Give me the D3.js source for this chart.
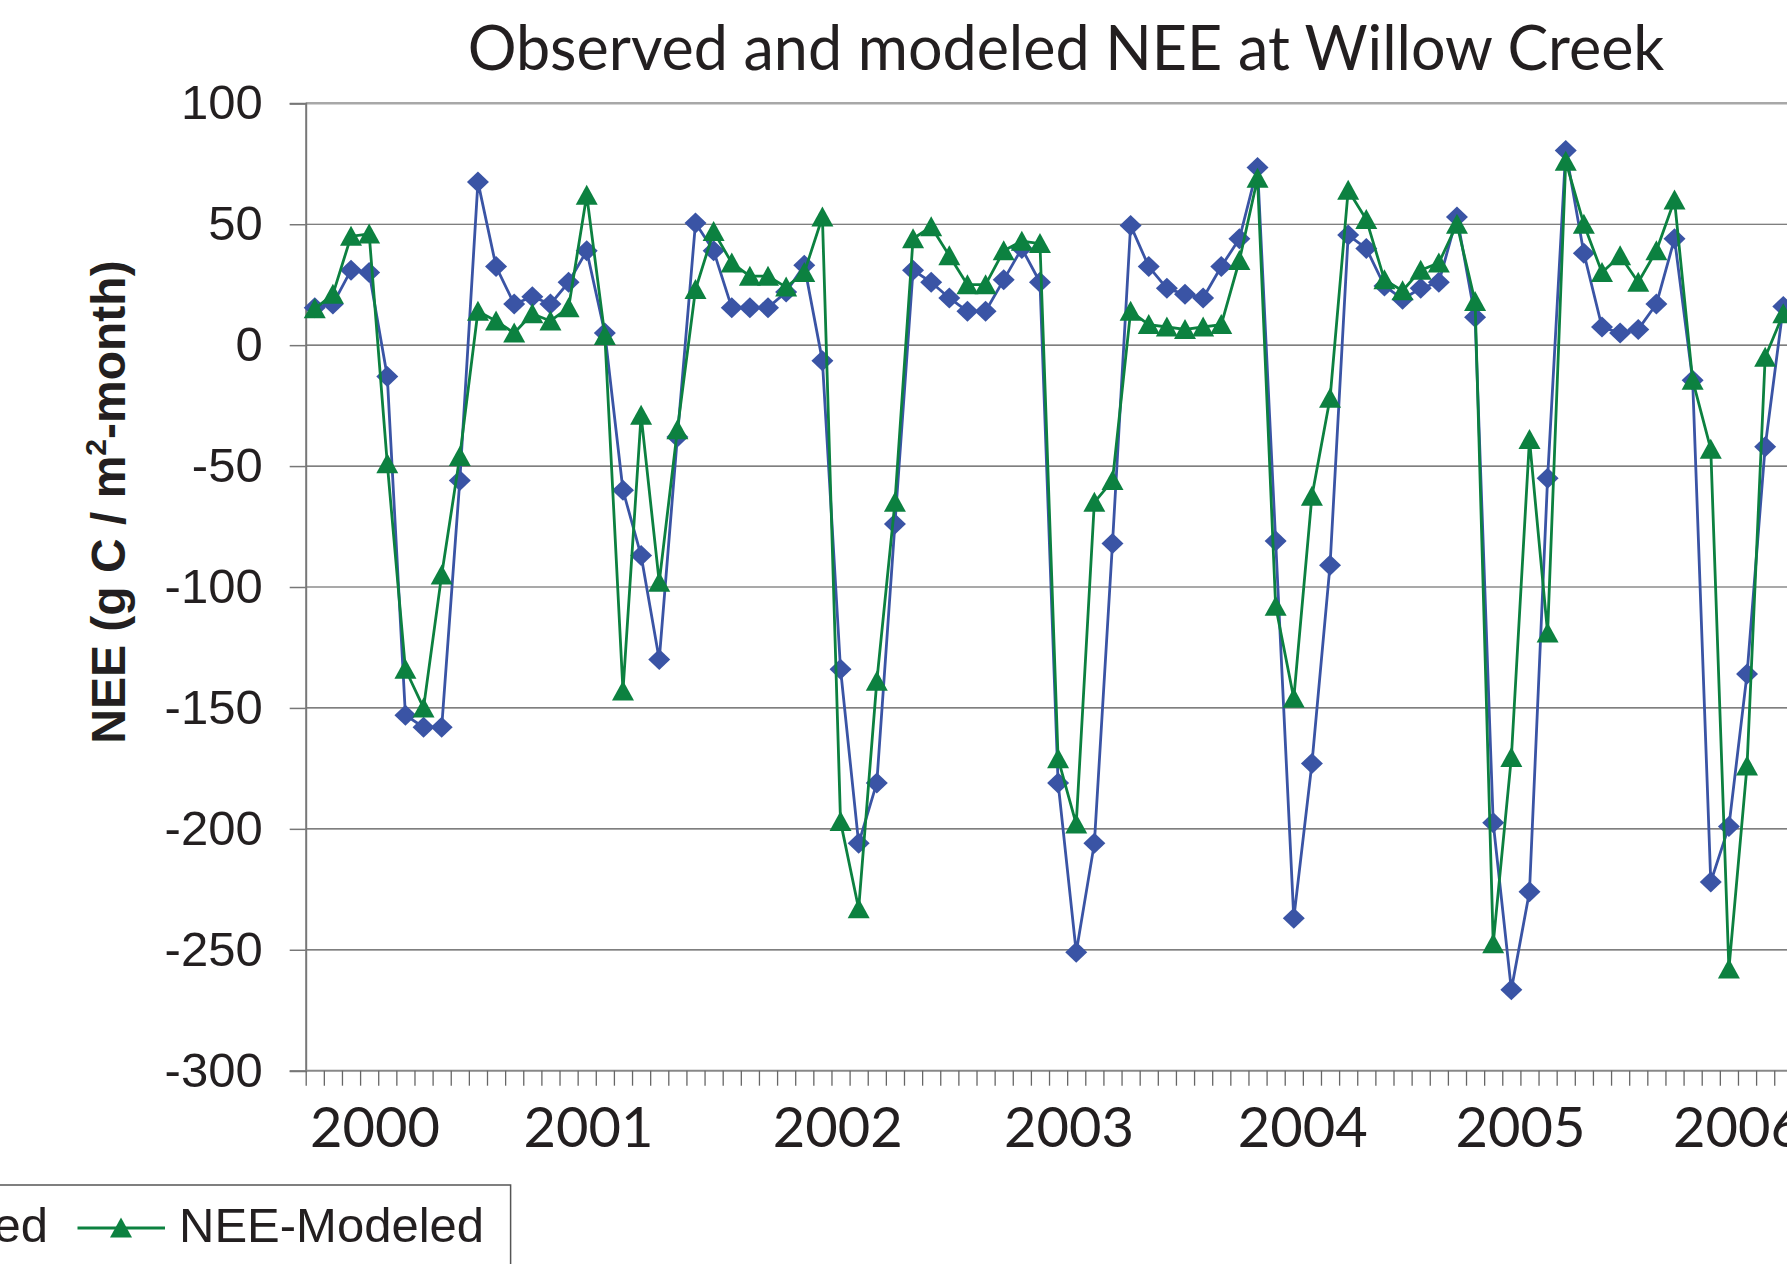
<!DOCTYPE html>
<html>
<head>
<meta charset="utf-8">
<script src="https://cdn.jsdelivr.net/npm/d3@7"></script>
<style>
  html, body { margin: 0; padding: 0; background: #fff; overflow: hidden; }
  svg { display: block; }
</style>
</head>
<body>
<svg id="chart" width="1787" height="1264"></svg>
<script>
// ---------------- data ----------------
const observed = [
  15.5, 17, 31, 30, -13, -153, -158, -158, -56, 67.5, 32.5, 17,
  20, 17, 26, 39, 5, -60, -87, -130, -38, 50.5, 39, 15.5,
  15.5, 15.5, 22, 33, -6.5, -134, -206, -181, -74, 31, 26, 19.5,
  14, 14, 27, 40, 26, -181, -251, -206, -82, 49.5, 32.5, 23.5,
  21, 19.5, 32.5, 44, 73.5, -81, -237, -173, -91, 45.5, 40, 24.5,
  19, 23.5, 26, 53, 11.5, -197.5, -266.5, -226, -55, 80.5, 38, 7.5,
  5, 6.5, 17, 44, -14.5, -222, -199, -136, -42, 16
];
const modeled = [
  15, 21, 45, 46, -49, -134, -150, -95, -46, 14, 10, 5,
  13, 10, 15.5, 62, 4, -143, -29, -98, -35, 23, 47, 34,
  28.5, 28.5, 24, 30, 53, -197, -233, -139, -65, 44, 49, 37,
  25, 25, 39, 43, 42, -171, -198, -65, -56, 14, 8.5, 7.5,
  6.5, 7.5, 8.5, 35, 69, -108, -146, -62.5, -22, 64, 52, 27,
  22.5, 31, 34, 50, 18, -247.5, -170.5, -39, -119, 76, 50, 30,
  37, 26, 39, 60, -14.5, -43, -258, -174, -5, 13
];
const yearLabels = ["2000", "2001", "2002", "2003", "2004", "2005", "2006"];
// where each year label sits, in month-index units along the category axis
const yearLabelAt = [3.82, 15.6, 29.35, 42.1, 55.0, 67.0, 79.0];
const yTicks = [100, 50, 0, -50, -100, -150, -200, -250, -300];
const seriesNames = ["NEE-Observed", "NEE-Modeled"];

// ---------------- layout ----------------
const svg = d3.select("#chart");
const N = observed.length;
const plotL = 305.7, plotT = 103.3, plotB = 1070.7, step = 18.13;
const plotR = plotL + N * step;

const xBand = d3.scaleBand().domain(d3.range(N)).range([plotL, plotR]).padding(0);
const xIdx = d3.scaleLinear().domain([0, N]).range([plotL, plotR]);
const y = d3.scaleLinear().domain([-300, 100]).range([plotB, plotT]);
const cx = i => xBand(i) + xBand.bandwidth() / 2;

const BLUE = "#3a54a5", GREEN = "#0c8140";

svg.append("rect").attr("width", 1787).attr("height", 1264).attr("fill", "#fff");

// gridlines
svg.append("g").selectAll("line").data(yTicks.filter(v => v > -300)).join("line")
  .attr("x1", plotL).attr("x2", plotR + 50)
  .attr("y1", d => y(d)).attr("y2", d => y(d))
  .attr("stroke", d => d === 100 ? "#a8a8a8" : "#555")
  .attr("stroke-width", d => d === 100 ? 2.5 : 1.2);

// y axis
const yAxis = svg.append("g").attr("transform", `translate(${plotL},0)`)
  .call(d3.axisLeft(y).tickValues(yTicks).tickSize(16).tickPadding(27).tickFormat(d => String(d)));
yAxis.select(".domain").attr("stroke", "#777").attr("stroke-width", 2);
yAxis.selectAll(".tick line").attr("stroke", "#777").attr("stroke-width", 1.5);
yAxis.selectAll(".tick text")
  .attr("font-family", "'Liberation Sans', Arial, sans-serif")
  .attr("font-size", 49).attr("fill", "#231f20");

// x axis (ticks at category boundaries)
const xAxis = svg.append("g").attr("transform", `translate(0,${plotB})`)
  .call(d3.axisBottom(xIdx).tickValues(d3.range(N + 1)).tickSize(15).tickFormat(""));
xAxis.select(".domain").attr("stroke", "#888").attr("stroke-width", 2).attr("d", `M${plotL},0H${plotR + 50}`);
xAxis.selectAll(".tick line").attr("stroke", "#666").attr("stroke-width", 1.3);

// year labels
const yl = svg.append("g").selectAll("text").data(yearLabels).join("text")
  .attr("x", (d, i) => xIdx(yearLabelAt[i]))
  .attr("y", 1146.5)
  .attr("text-anchor", "middle")
  .attr("font-family", "Lato, 'Open Sans', sans-serif")
  .attr("font-size", 56)
  .attr("fill", "#231f20")
  .text(d => d);
yl.each(function () {
  const w = this.getComputedTextLength();
  d3.select(this).attr("font-size", 56 * 130 / w);
});

// title
const title = svg.append("text")
  .attr("x", 1066).attr("y", 70)
  .attr("text-anchor", "middle")
  .attr("font-family", "Lato, 'Open Sans', sans-serif")
  .attr("font-size", 62).attr("fill", "#231f20")
  .text("Observed and modeled NEE at Willow Creek");
{
  const w = title.node().getComputedTextLength();
  title.attr("font-size", 62 * 1197 / w);
}

// y-axis title
const yt = svg.append("text")
  .attr("transform", "translate(125,502) rotate(-90)")
  .attr("text-anchor", "middle")
  .attr("font-family", "'Liberation Sans', Arial, sans-serif")
  .attr("font-weight", "bold").attr("font-size", 48).attr("fill", "#231f20");
yt.append("tspan").text("NEE (g C / m");
yt.append("tspan").attr("dy", -19).attr("font-size", 30).text("2");
yt.append("tspan").attr("dy", 19).text("-month)");

// series
const diamond = "M0,-10.5L11,0L0,10.5L-11,0Z";
const triangle = "M0,-10.5L11,9.5L-11,9.5Z";
const line = d3.line().x((d, i) => cx(i)).y(d => y(d));

function drawSeries(values, color, marker) {
  const g = svg.append("g");
  g.append("path").datum(values).attr("d", line)
    .attr("fill", "none").attr("stroke", color).attr("stroke-width", 2.8)
    .attr("stroke-linejoin", "round");
  g.selectAll("path.m").data(values).join("path").attr("class", "m")
    .attr("d", marker)
    .attr("transform", (d, i) => `translate(${cx(i)},${y(d)})`)
    .attr("fill", color);
}
drawSeries(observed, BLUE, diamond);
drawSeries(modeled, GREEN, triangle);

// legend (partly outside the visible frame, as in the reference)
const lg = svg.append("g");
lg.append("rect").attr("x", -420).attr("y", 1185).attr("width", 930.6).attr("height", 200)
  .attr("fill", "#fff").attr("stroke", "#555").attr("stroke-width", 1.5);
const ly = 1228;
lg.append("line").attr("x1", 77.5).attr("x2", 165).attr("y1", ly).attr("y2", ly)
  .attr("stroke", GREEN).attr("stroke-width", 2.8);
lg.append("path").attr("d", triangle).attr("transform", `translate(121,${ly})`).attr("fill", GREEN);
lg.append("text").attr("x", 179).attr("y", 1242)
  .attr("font-family", "'Liberation Sans', Arial, sans-serif").attr("font-size", 49).attr("fill", "#231f20")
  .text(seriesNames[1]);
const ot = lg.append("text").attr("x", 48).attr("y", 1242).attr("text-anchor", "end")
  .attr("font-family", "'Liberation Sans', Arial, sans-serif").attr("font-size", 49).attr("fill", "#231f20")
  .text(seriesNames[0]);
const ow = ot.node().getComputedTextLength();
const oEnd = 48 - ow - 14;
lg.append("line").attr("x1", oEnd - 87.5).attr("x2", oEnd).attr("y1", ly).attr("y2", ly)
  .attr("stroke", BLUE).attr("stroke-width", 2.8);
lg.append("path").attr("d", diamond).attr("transform", `translate(${oEnd - 44},${ly})`).attr("fill", BLUE);
</script>
</body>
</html>
